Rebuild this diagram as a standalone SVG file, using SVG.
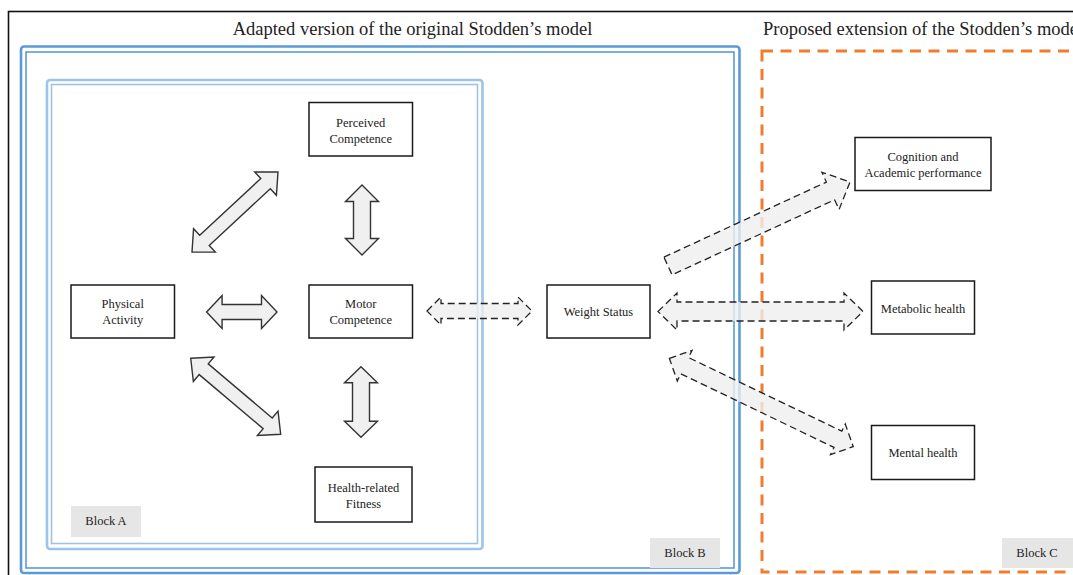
<svg xmlns="http://www.w3.org/2000/svg" width="1073" height="575" viewBox="0 0 1073 575">
<style>
text{font-family:"Liberation Serif","Times New Roman","DejaVu Serif",serif;fill:#222;}
.title{font-size:18.5px;}
.lbl{font-size:12.5px;text-anchor:middle;}
.box{fill:#fff;stroke:#1a1a1a;stroke-width:1.5;}
.blk{fill:#e6e6e6;stroke:none;}
.sa{fill:#f0f0f0;stroke:#333;stroke-width:1.4;stroke-linejoin:miter;}
.da{fill:#efefef;fill-opacity:0.8;stroke:#222;stroke-width:1.3;stroke-dasharray:7 4;}
.b1{fill:none;stroke:#5b9bd5;}
.b2{fill:none;stroke:#9dc3e6;}
</style>
<rect width="1073" height="575" fill="#fff"/>
<g id="frames">
<rect x="8.5" y="11.5" width="1100" height="600" fill="none" stroke="#111" stroke-width="1.6"/>
<rect class="b1" x="21" y="46.5" width="718.5" height="526.5" rx="3" stroke-width="2.6"/>
<rect class="b1" x="26" y="52" width="708" height="516" stroke-width="1.6"/>
<rect class="b2" x="47" y="80" width="435.5" height="469" rx="3" stroke-width="2.6"/>
<rect class="b2" x="51.5" y="84.5" width="426" height="459" stroke-width="1.6"/>
<rect x="762" y="51" width="400" height="521" fill="none" stroke="#ed7d31" stroke-width="3" stroke-dasharray="11 7.5"/>
<text class="title" x="412.5" y="35" text-anchor="middle">Adapted version of the original Stodden’s model</text>
<text class="title" x="763" y="35">Proposed extension of the Stodden’s model</text>
</g>
<g id="connectors">
<path class="sa" transform="translate(235,212) rotate(-42.9)" d="M-58.7 0L-41.7 -16L-41.7 -7L41.7 -7L41.7 -16L58.7 0L41.7 16L41.7 7L-41.7 7L-41.7 16Z"/>
<path class="sa" transform="translate(235.7,396.3) rotate(40.2)" d="M-58.9 0L-41.9 -16L-41.9 -7L41.9 -7L41.9 -16L58.9 0L41.9 16L41.9 7L-41.9 7L-41.9 16Z"/>
<path class="sa" transform="translate(241.8,312)" d="M-35.2 0L-19.7 -16.5L-19.7 -7.5L19.7 -7.5L19.7 -16.5L35.2 0L19.7 16.5L19.7 7.5L-19.7 7.5L-19.7 16.5Z"/>
<path class="sa" transform="translate(362,220) rotate(90)" d="M-35 0L-18.5 -16.5L-18.5 -8.5L18.5 -8.5L18.5 -16.5L35 0L18.5 16.5L18.5 8.5L-18.5 8.5L-18.5 16.5Z"/>
<path class="sa" transform="translate(361,402) rotate(90)" d="M-35.3 0L-19.3 -16.5L-19.3 -8.5L19.3 -8.5L19.3 -16.5L35.3 0L19.3 16.5L19.3 8.5L-19.3 8.5L-19.3 16.5Z"/>
<path class="da" transform="translate(479.5,311)" d="M-52.5 0L-38.5 -14L-38.5 -7.5L38.5 -7.5L38.5 -14L52.5 0L38.5 14L38.5 7.5L-38.5 7.5L-38.5 14Z"/>
<path class="da" transform="translate(760.5,311.5)" d="M-102.5 0L-83.5 -18.5L-83.5 -9.5L83.5 -9.5L83.5 -18.5L102.5 0L83.5 18.5L83.5 9.5L-83.5 9.5L-83.5 18.5Z"/>
<path class="da" transform="translate(668,266) rotate(-24.8)" d="M0 -9.75L179 -9.75L179 -20.5L200.5 0L179 20.5L179 9.75L0 9.75Z"/>
<path class="da" transform="translate(761.3,402.5) rotate(25.66)" d="M-102 0L-85 -17L-85 -9L85 -9L85 -17L102 0L85 17L85 9L-85 9L-85 17Z"/>
</g>
<g id="perceived">
<rect class="box" x="309" y="102.5" width="103.5" height="53.5"/>
<text class="lbl" x="360.7" y="127">Perceived</text>
<text class="lbl" x="360.7" y="143">Competence</text>
</g>
<g id="physical">
<rect class="box" x="71" y="285" width="103.5" height="53"/>
<text class="lbl" x="122.7" y="308">Physical</text>
<text class="lbl" x="122.7" y="324">Activity</text>
</g>
<g id="motor">
<rect class="box" x="309" y="285" width="103.5" height="53"/>
<text class="lbl" x="360.7" y="308">Motor</text>
<text class="lbl" x="360.7" y="324">Competence</text>
</g>
<g id="fitness">
<rect class="box" x="315" y="467" width="97" height="55"/>
<text class="lbl" x="363.5" y="492">Health-related</text>
<text class="lbl" x="363.5" y="508">Fitness</text>
</g>
<g id="blockA">
<rect class="blk" x="71" y="506" width="70" height="31"/>
<text class="lbl" x="106" y="525">Block A</text>
</g>
<g id="weight">
<rect class="box" x="547" y="285" width="103" height="53"/>
<text class="lbl" x="598.5" y="315.5">Weight Status</text>
</g>
<g id="cognition">
<rect class="box" x="855" y="137.5" width="136" height="53"/>
<text class="lbl" x="923" y="161">Cognition and</text>
<text class="lbl" x="923" y="177">Academic performance</text>
</g>
<g id="metabolic">
<rect class="box" x="871.5" y="281" width="103" height="53"/>
<text class="lbl" x="923" y="313">Metabolic health</text>
</g>
<g id="mental">
<rect class="box" x="871.5" y="425.5" width="103" height="54"/>
<text class="lbl" x="923" y="457">Mental health</text>
</g>
<g id="blockB">
<rect class="blk" x="650" y="538" width="70" height="30"/>
<text class="lbl" x="685" y="557">Block B</text>
</g>
<g id="blockC">
<rect class="blk" x="1002" y="538" width="71" height="30"/>
<text class="lbl" x="1037" y="557">Block C</text>
</g>
</svg>
